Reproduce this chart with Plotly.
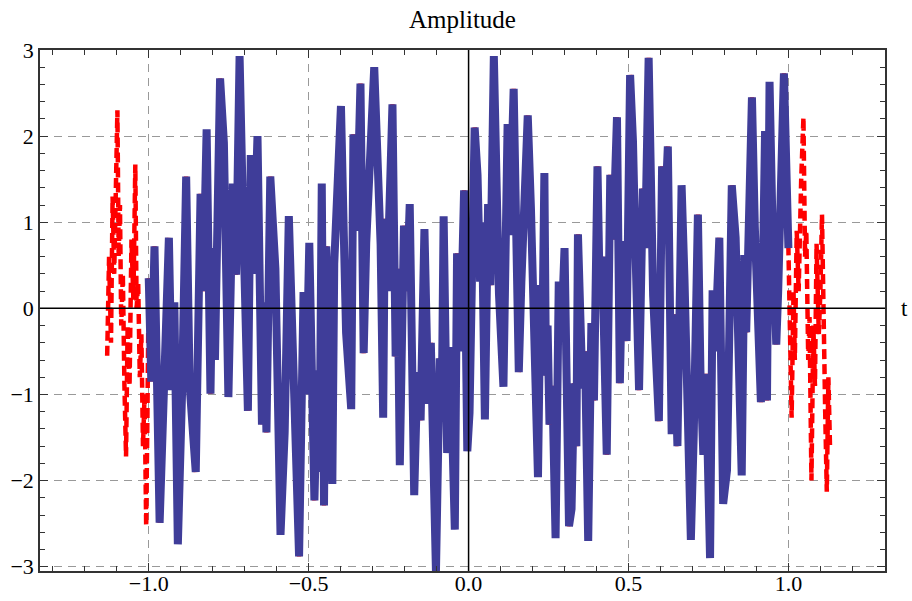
import plotly.graph_objects as go

# Sampled signal: turning points of the waveform (time t, amplitude)
t_left = [-1.130, -1.124, -1.118, -1.113, -1.108, -1.103, -1.098, -1.094, -1.090,
          -1.086, -1.081, -1.076, -1.071, -1.066, -1.060, -1.054, -1.048, -1.042,
          -1.038, -1.033, -1.028, -1.023, -1.018, -1.013, -1.008, -1.004]
amp_left = [-0.55, 0.60, -0.40, 1.30, 0.40, 1.70, 2.30, 0.60, 1.20,
            -0.20, 0.40, -0.90, -1.72, -0.20, -0.90, 0.80, 0.10, 1.67,
            0.00, 0.30, -0.80, -0.30, -1.60, -1.00, -2.53, -1.20]

t_main = [-1.000, -0.992, -0.982, -0.966, -0.937, -0.928, -0.920, -0.909, -0.896,
          -0.883, -0.872, -0.853, -0.838, -0.830, -0.819, -0.807, -0.800, -0.793,
          -0.777, -0.765, -0.751, -0.737, -0.727, -0.716, -0.705, -0.690, -0.681,
          -0.673, -0.660, -0.646, -0.640, -0.632, -0.620, -0.604, -0.588, -0.575,
          -0.562, -0.550, -0.530, -0.516, -0.508, -0.498, -0.482, -0.472, -0.466,
          -0.459, -0.452, -0.445, -0.438, -0.426, -0.420, -0.399, -0.390, -0.383,
          -0.367, -0.360, -0.350, -0.338, -0.328, -0.320, -0.295, -0.285, -0.275,
          -0.267, -0.262, -0.255, -0.238, -0.228, -0.222, -0.215, -0.202, -0.193,
          -0.184, -0.176, -0.170, -0.160, -0.150, -0.138, -0.126, -0.118, -0.102,
          -0.090, -0.084, -0.078, -0.067, -0.058, -0.043, -0.036, -0.026, -0.014,
          -0.004, 0.003, 0.019, 0.028, 0.036, 0.042, 0.051, 0.061, 0.068,
          0.079, 0.088, 0.095, 0.109, 0.122, 0.128, 0.141, 0.150, 0.157,
          0.165, 0.185, 0.195, 0.203, 0.217, 0.225, 0.231, 0.237, 0.242,
          0.247, 0.253, 0.262, 0.272, 0.282, 0.290, 0.300, 0.314, 0.322,
          0.330, 0.337, 0.342, 0.350, 0.356, 0.364, 0.374, 0.384, 0.392,
          0.403, 0.410, 0.418, 0.432, 0.443, 0.452, 0.464, 0.473, 0.482,
          0.494, 0.505, 0.514, 0.521, 0.533, 0.545, 0.552, 0.563, 0.572,
          0.577, 0.595, 0.605, 0.612, 0.623, 0.635, 0.642, 0.653, 0.666,
          0.675, 0.682, 0.695, 0.704, 0.710, 0.717, 0.725, 0.734, 0.742,
          0.755, 0.763, 0.770, 0.784, 0.790, 0.796, 0.808, 0.823, 0.835,
          0.842, 0.854, 0.862, 0.868, 0.886, 0.895, 0.914, 0.927, 0.933,
          0.941, 0.950, 0.962, 0.968, 0.986, 1.000]
amp_main = [0.35, -0.85, 0.72, -2.49, 0.82, -0.95, 0.07, -2.74, -1.00,
            1.53, -0.90, -1.90, 1.33, 0.20, 2.08, -0.99, 0.70, -0.60,
            2.67, 1.92, -1.03, 1.45, 0.39, 2.93, 1.05, -1.19, 1.78,
            0.40, 2.00, -1.35, 0.07, -1.44, 1.53, 0.46, -2.63, -1.44,
            1.07, -0.32, -2.88, 0.19, -1.00, 0.76, -2.23, -0.72, -1.90,
            1.45, -2.29, 0.72, -0.40, -2.04, 0.52, 2.35, 0.84, -0.28,
            -1.17, 2.02, 0.90, 2.61, -0.52, 0.76, 2.80, 1.80, 0.74,
            -1.27, 1.04, 0.20, 2.37, -0.56, 0.46, -1.82, 0.96, 0.20,
            1.21, -0.74, -2.17, -0.74, -1.30, 0.92, -1.11, -0.40, -3.06,
            -0.58, -1.20, 1.07, -1.68, -0.45, -2.57, 0.64, -0.50, 1.37,
            -1.66, -1.21, 2.10, 1.55, 0.31, 1.00, -1.29, 1.21, 0.27,
            2.93, 1.23, 0.17, -0.91, 2.14, 0.85, 2.55, 0.68, -0.74,
            0.30, 2.24, 1.16, 0.15, -1.96, 0.27, -0.30, 1.57, -0.78,
            -0.20, -1.35, -0.90, -2.67, 0.31, -0.30, 0.70, -2.53, -2.33,
            -0.87, -1.60, 0.86, 0.15, -0.93, -0.50, -2.70, -0.17, -1.07,
            1.65, 0.17, 0.60, -1.70, 1.55, 0.80, 2.22, -0.87, 0.78,
            -0.38, 2.71, 1.94, 0.80, -0.95, 1.39, 0.70, 2.91, 1.02,
            0.15, -1.31, 1.65, 0.90, 1.88, -1.46, -0.07, -1.60, 1.43,
            0.35, -0.64, -2.69, -1.46, -0.40, 1.09, -0.74, -1.70, -0.76,
            -2.90, 0.21, -0.50, 0.82, -0.64, -2.27, -1.88, 1.43, 0.82,
            -0.40, -1.94, 0.62, -0.28, 2.45, 0.94, -1.09, 2.06, -1.07,
            2.63, 1.00, -0.42, 0.20, 2.73, 0.70]

t_right = [1.004, 1.010, 1.016, 1.020, 1.026, 1.032, 1.040, 1.047, 1.052,
           1.056, 1.062, 1.066, 1.072, 1.078, 1.083, 1.088, 1.095, 1.100,
           1.105, 1.110, 1.115, 1.120, 1.125, 1.130]
amp_right = [-0.30, -1.27, 0.20, -0.60, 0.90, 0.20, 1.50, 2.22, 0.60,
             0.90, -0.60, -0.10, -2.00, -0.20, -0.90, 0.75, -0.30, 0.20,
             1.09, -0.50, -1.20, -2.13, -0.80, -1.60]

x_ticks = [-1.0, -0.5, 0.0, 0.5, 1.0]
y_ticks = [-3, -2, -1, 0, 1, 2, 3]

serif = "Liberation Serif, Times New Roman, serif"

fig = go.Figure()

# full-range signal, dashed red, underneath
fig.add_trace(go.Scatter(
    x=t_left + t_main + t_right,
    y=amp_left + amp_main + amp_right,
    mode="lines",
    line=dict(color="#ff0000", width=4.5, dash="10px,5px"),
    hoverinfo="skip",
    showlegend=False,
))

# the signal on [-1, 1], thick blue
fig.add_trace(go.Scatter(
    x=t_main,
    y=amp_main,
    mode="lines",
    line=dict(color="#3f3d99", width=8),
    hoverinfo="skip",
    showlegend=False,
))

axis_common = dict(
    showline=True, linecolor="#333333", linewidth=1.5, mirror="allticks",
    ticks="inside", tickcolor="#333333", tickwidth=1.2,
    showgrid=True, gridcolor="#999999", gridwidth=1, griddash="8px,6px",
    zeroline=False, automargin=False,
    tickfont=dict(family=serif, size=22, color="black"),
)

fig.update_xaxes(
    range=[-1.34, 1.302], tickvals=x_ticks, tickformat=".1f", ticklen=8,
    ticklabelstandoff=-8,
    minor=dict(dtick=0.1, tick0=0, ticks="inside", ticklen=5,
               tickcolor="#333333", showgrid=False),
    **axis_common,
)
fig.update_yaxes(
    range=[-3.05, 3.0], tickvals=y_ticks, ticklen=8,
    minor=dict(dtick=0.2, tick0=0, ticks="inside", ticklen=5,
               tickcolor="#333333", showgrid=False),
    **axis_common,
)

# coordinate axes through the origin, drawn over the curves
fig.add_shape(type="line", xref="x domain", yref="y", x0=0, x1=1, y0=0, y1=0,
              line=dict(color="black", width=1.5), layer="above")
fig.add_shape(type="line", xref="x", yref="y domain", x0=0, x1=0, y0=0, y1=1,
              line=dict(color="black", width=1.5), layer="above")

fig.add_annotation(text="t", xref="paper", yref="y", x=1, y=0, xanchor="left",
                   xshift=14, showarrow=False,
                   font=dict(family=serif, size=23, color="black"))

fig.update_layout(
    width=912, height=601,
    margin=dict(l=40, r=27, t=50, b=30),
    paper_bgcolor="white", plot_bgcolor="white",
    title=dict(text="Amplitude", x=0.5, xref="paper", xanchor="center",
               y=0.982, yanchor="top",
               font=dict(family=serif, size=25, color="black")),
)

fig.write_html("out.html")
